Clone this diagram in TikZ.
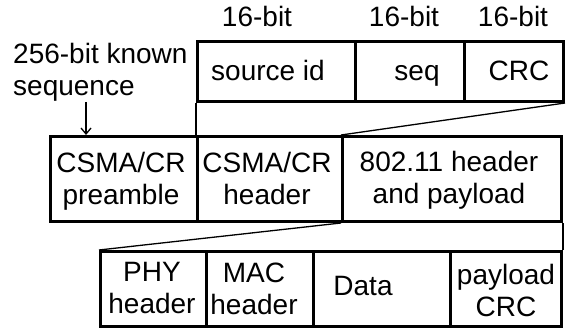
\documentclass[tikz,border=0pt]{standalone}
\usepackage{fontspec}
\setmainfont{Liberation Sans}
\usetikzlibrary{arrows.meta}
\begin{document}
\begin{tikzpicture}[x=1pt,y=-1pt,
  cell/.style={draw, line width=3pt, inner sep=0pt, anchor=north west},
  txt/.style={font=\fontsize{28}{32}\selectfont, inner sep=0pt, align=center},
  thin/.style={line width=1.3pt},
  arr/.style={line width=1.3pt, -{Straight Barb[length=6pt,width=10pt,line width=1.3pt]}}]
\useasboundingbox (0,0) rectangle (567,331);
% top row
\node[cell, minimum width=158pt, minimum height=60pt] (srcid) at (196,40) {};
\node[cell, minimum width=109pt, minimum height=60pt] (seq) at (354,40) {};
\node[cell, minimum width=99pt, minimum height=60pt] (crc) at (463,40) {};
% middle row
\node[cell, minimum width=147pt, minimum height=85pt] (pre) at (49,135) {};
\node[cell, minimum width=145pt, minimum height=85pt] (hdr) at (196,135) {};
\node[cell, minimum width=219pt, minimum height=85pt] (pay) at (341,135) {};
% bottom row
\node[cell, minimum width=106pt, minimum height=75pt] (phy) at (99,250) {};
\node[cell, minimum width=107pt, minimum height=75pt] (mac) at (205,250) {};
\node[cell, minimum width=137pt, minimum height=75pt] (data) at (312,250) {};
\node[cell, minimum width=111pt, minimum height=75pt] (pcrc) at (449,250) {};
% connectors
\draw[thin] (srcid.south west) -- (hdr.north west);
\draw[thin] (crc.south east) -- (pay.north west);
\draw[thin] (pay.south west) -- (phy.north west);
\draw[thin] (pay.south east) -- (pcrc.north east);
\coordinate (arrs) at (86,102);
\draw[arr] (arrs) -- (arrs |- pre.north);
% labels
\node[txt, anchor=base] (b1) at (257,27) {16-bit};
\node[txt, anchor=base] (b2) at (404,27) {16-bit};
\node[txt, anchor=base] (b3) at (513,27) {16-bit};
\node[txt, anchor=north west, align=left] (known) at (13,43.3) {256-bit known\\sequence};
\node[txt, anchor=base] (tsrc) at (268,81) {source id};
\node[txt, anchor=base] (tseq) at (417,81) {seq};
\node[txt, anchor=base] (tcrc) at (519,81) {CRC};
\node[txt, anchor=north] (tpre) at (121,152) {CSMA/CR\\preamble};
\node[txt, anchor=north] (thdr) at (267,152) {CSMA/CR\\header};
\node[txt, anchor=north] (tpay) at (449,151) {802.11 header\\and payload};
\node[txt, anchor=north] (tphy) at (152,262.3) {PHY\\header};
\node[txt, anchor=north] (tmac) at (254,262.3) {MAC\\header};
\node[txt, anchor=base] (tdata) at (363,295) {Data};
\node[txt, anchor=north] (tpcrc) at (506,264.3) {payload\\CRC};
\end{tikzpicture}
\end{document}
